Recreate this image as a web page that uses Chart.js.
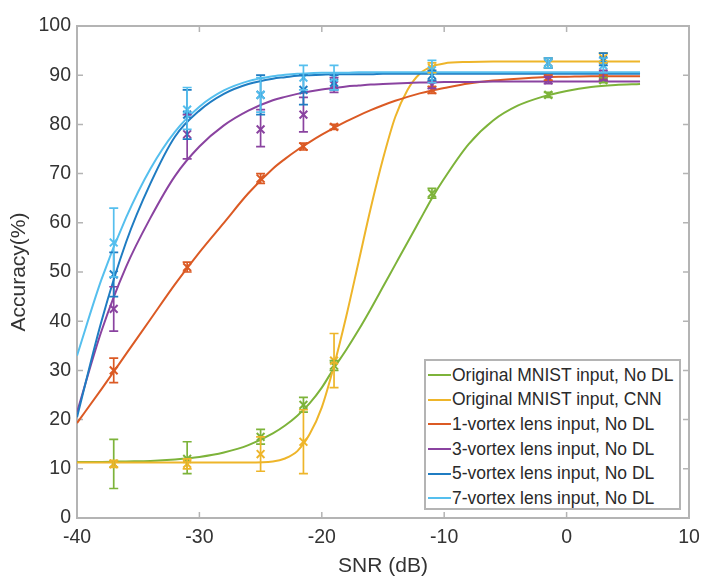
<!DOCTYPE html>
<html>
<head>
<meta charset="utf-8">
<script src="https://cdn.jsdelivr.net/npm/chart.js@4/dist/chart.umd.min.js"></script>
<style>
  html, body { margin: 0; padding: 0; background: #fff; }
  #wrap { position: relative; width: 702px; height: 579px; }
  #legend {
    position: absolute; left: 424px; top: 359px; width: 257px; height: 151px;
    box-sizing: border-box; border: 2px solid #b4b4b4; background: #fff;
    font-family: "Liberation Sans", Arial, sans-serif; font-size: 17.5px; color: #2a2a2a;
    padding-top: 2px;
  }
  #legend .row { height: 24.6px; display: flex; align-items: center; white-space: nowrap; }
  #legend .swatch { width: 23px; height: 2px; margin-left: 2px; margin-right: 1px; }
</style>
</head>
<body>
<div id="wrap">
  <canvas id="c" width="702" height="579"></canvas>
  <div id="legend"></div>
</div>
<script>
(function () {

  // measured SNR values (dB)
  const snrPoints = [-37, -31, -25, -21.5, -19, -11, -1.5, 3];

  // x positions for the fitted curves
  const fitSnr = [-40, -38, -36, -34, -32, -30, -28, -26, -24, -23, -22, -21, -20, -19, -18,
                  -17, -16, -15, -14, -13, -12, -11, -10, -8, -6, -4, -2, 0, 2, 4, 6];

  const seriesLabels = [
    "Original MNIST input, No DL",
    "Original MNIST input, CNN",
    "1-vortex lens input, No DL",
    "3-vortex lens input, No DL",
    "5-vortex lens input, No DL",
    "7-vortex lens input, No DL"
  ];

  // accuracy (%) at each measured SNR, with error-bar ends
  const mnistVals = [11, 12, 16.5, 23, 31, 66, 86, 89];
  const mnistLo   = [6, 9, 15, 21.5, 30, 65, 85.5, 88.5];
  const mnistHi   = [16, 15.5, 18, 24.5, 32, 67, 86.5, 89.5];

  const cnnVals = [11, 11, 13, 15.5, 32, 91.5, 92.5, 93.5];
  const cnnLo   = [10.3, 10, 9.5, 9, 26.5, 90.5, 91.5, 92.5];
  const cnnHi   = [11.7, 12, 16.5, 22, 37.5, 92.5, 93.5, 94.5];

  const v1Vals = [30, 51, 69, 75.5, 79.5, 87, 89.5, 89.5];
  const v1Lo   = [27.5, 50, 68, 74.8, 79, 86.3, 89, 89];
  const v1Hi   = [32.5, 52, 70, 76.2, 80, 87.7, 90, 90];

  const v3Vals = [42.5, 78, 79, 82, 88, 88, 89, 90];
  const v3Lo   = [38, 73, 75.5, 78.5, 86.5, 87.3, 88.3, 89];
  const v3Hi   = [47, 82, 83, 85.5, 89.5, 88.7, 89.7, 91];

  const v5Vals = [49.5, 82, 86, 87, 88.5, 90, 92.5, 93];
  const v5Lo   = [45, 77, 82, 84, 87, 89, 91.5, 92];
  const v5Hi   = [54, 87, 90, 90, 90, 91, 93.5, 94.5];

  const v7Vals = [56, 83, 86, 89.5, 89.5, 91, 92.5, 92];
  const v7Lo   = [49, 79, 82.5, 87, 87, 88.5, 91.5, 90.5];
  const v7Hi   = [63, 87.5, 89.5, 92, 92, 93, 93.5, 93.5];

  // fitted curves at fitSnr
  const mnistFit = [11.4, 11.4, 11.5, 11.6, 11.9, 12.4, 13.3, 14.8, 17.2, 18.8, 20.8, 23.3, 26.5, 30.5, 34.2,
                    38.2, 42.5, 47, 51.5, 56, 60.5, 65, 69, 76, 80.8, 83.8, 85.6, 86.8, 87.6, 88, 88.2];
  const cnnFit   = [11.3, 11.3, 11.3, 11.3, 11.3, 11.3, 11.3, 11.3, 11.5, 12.1, 13.6, 17, 22.5, 31, 41,
                    52, 63, 73, 81.5, 87, 90.3, 91.8, 92.4, 92.7, 92.8, 92.8, 92.8, 92.8, 92.8, 92.8, 92.8];
  const v1Fit    = [19.3, 26.2, 33.3, 40.4, 47.5, 54, 60, 66, 71, 73, 74.8, 76.4, 77.9, 79.3, 80.6,
                    81.8, 82.9, 83.9, 84.8, 85.6, 86.3, 86.9, 87.4, 88.3, 88.9, 89.3, 89.6, 89.7, 89.8, 89.8, 89.8];
  const v3Fit    = [21.5, 38, 51, 61, 69.5, 75.5, 79.8, 82.8, 84.9, 85.6, 86.2, 86.7, 87.1, 87.4, 87.7,
                    87.9, 88.1, 88.2, 88.3, 88.4, 88.5, 88.5, 88.6, 88.6, 88.7, 88.7, 88.7, 88.7, 88.7, 88.7, 88.7];
  const v5Fit    = [20.5, 40, 56, 68, 77.5, 82.8, 86.2, 88.2, 89.3, 89.6, 89.9, 90, 90.1, 90.2, 90.2,
                    90.2, 90.2, 90.3, 90.3, 90.3, 90.3, 90.3, 90.3, 90.3, 90.3, 90.3, 90.3, 90.3, 90.3, 90.3, 90.3];
  const v7Fit    = [33, 48.5, 61, 71, 78.5, 83.6, 86.9, 88.8, 89.8, 90.1, 90.3, 90.4, 90.5, 90.5, 90.5,
                    90.6, 90.6, 90.6, 90.6, 90.6, 90.6, 90.6, 90.6, 90.6, 90.6, 90.6, 90.6, 90.6, 90.6, 90.6, 90.6];

  const xTicks = [-40, -30, -20, -10, 0, 10];
  const yTicks = [0, 10, 20, 30, 40, 50, 60, 70, 80, 90, 100];

  const seriesColors = ["#7db33a", "#eeb52a", "#db5a24", "#8a43a0", "#1f7cc2", "#55bfee"];

  const allVals = [mnistVals, cnnVals, v1Vals, v3Vals, v5Vals, v7Vals];
  const allLo   = [mnistLo, cnnLo, v1Lo, v3Lo, v5Lo, v7Lo];
  const allHi   = [mnistHi, cnnHi, v1Hi, v3Hi, v5Hi, v7Hi];
  const allFit  = [mnistFit, cnnFit, v1Fit, v3Fit, v5Fit, v7Fit];

  const FONT = "'Liberation Sans', Arial, sans-serif";
  const TEXT = "#333";

  const datasets = [];
  seriesLabels.forEach((label, i) => {
    const n = seriesLabels.length;
    datasets.push({
      label: label,
      data: fitSnr.map((x, j) => ({ x: x, y: allFit[i][j] })),
      borderColor: seriesColors[i],
      borderWidth: 2,
      pointRadius: 0,
      cubicInterpolationMode: "monotone",
      fill: false,
      order: 2 * (n - i)
    });
    datasets.push({
      label: label + " (data)",
      data: snrPoints.map((x, j) => ({ x: x, y: allVals[i][j] })),
      errLo: allLo[i],
      errHi: allHi[i],
      showLine: false,
      borderColor: seriesColors[i],
      backgroundColor: seriesColors[i],
      pointStyle: "crossRot",
      pointRadius: 5.5,
      pointBorderWidth: 2,
      order: 2 * (n - i) - 1
    });
  });

  // box around the plot with inward ticks on all four sides
  const framePlugin = {
    id: "frame",
    beforeDatasetsDraw(chart) {
      const { ctx, chartArea: a, scales: { x, y } } = chart;
      ctx.save();
      ctx.strokeStyle = "#b4b4b4";
      ctx.lineWidth = 2;
      ctx.strokeRect(a.left, a.top, a.right - a.left, a.bottom - a.top);
      ctx.lineWidth = 1.5;
      ctx.beginPath();
      xTicks.forEach(v => {
        const px = x.getPixelForValue(v);
        if (px <= a.left + 1 || px >= a.right - 1) return;
        ctx.moveTo(px, a.bottom); ctx.lineTo(px, a.bottom - 6);
        ctx.moveTo(px, a.top); ctx.lineTo(px, a.top + 6);
      });
      yTicks.forEach(v => {
        const py = y.getPixelForValue(v);
        if (py <= a.top + 1 || py >= a.bottom - 1) return;
        ctx.moveTo(a.left, py); ctx.lineTo(a.left + 6, py);
        ctx.moveTo(a.right, py); ctx.lineTo(a.right - 6, py);
      });
      ctx.stroke();
      ctx.restore();
    }
  };

  const errorBarPlugin = {
    id: "errorBars",
    afterDatasetsDraw(chart) {
      const { ctx, scales: { x, y } } = chart;
      ctx.save();
      ctx.lineWidth = 1.7;
      chart.data.datasets.forEach(ds => {
        if (!ds.errLo) return;
        ctx.strokeStyle = ds.borderColor;
        ctx.beginPath();
        ds.data.forEach((p, j) => {
          const px = x.getPixelForValue(p.x);
          const lo = y.getPixelForValue(ds.errLo[j]);
          const hi = y.getPixelForValue(ds.errHi[j]);
          ctx.moveTo(px, lo); ctx.lineTo(px, hi);
          ctx.moveTo(px - 4.5, lo); ctx.lineTo(px + 4.5, lo);
          ctx.moveTo(px - 4.5, hi); ctx.lineTo(px + 4.5, hi);
        });
        ctx.stroke();
      });
      ctx.restore();
    }
  };

  new Chart(document.getElementById("c"), {
    type: "line",
    data: { datasets },
    options: {
      responsive: false,
      animation: false,
      devicePixelRatio: 1,
      layout: { padding: { top: 26, right: 13, left: 0, bottom: 0 } },
      plugins: { legend: { display: false }, tooltip: { enabled: false } },
      scales: {
        x: {
          type: "linear",
          min: -40, max: 10,
          afterBuildTicks(s) { s.ticks = xTicks.map(v => ({ value: v })); },
          afterFit(s) { s.height = 61; s.paddingLeft = 0; s.paddingRight = 0; },
          grid: { display: false, drawTicks: false },
          border: { display: false },
          ticks: {
            color: TEXT,
            font: { family: FONT, size: 19.5 },
            padding: 8
          },
          title: {
            display: true, text: "SNR (dB)", color: TEXT,
            font: { family: FONT, size: 21 },
            padding: { top: 0, bottom: 0 }
          }
        },
        y: {
          type: "linear",
          min: 0, max: 100,
          afterBuildTicks(s) { s.ticks = yTicks.map(v => ({ value: v })); },
          afterFit(s) { s.width = 77; s.paddingTop = 0; s.paddingBottom = 0; },
          grid: { display: false, drawTicks: false },
          border: { display: false },
          ticks: {
            color: TEXT,
            font: { family: FONT, size: 19.5 },
            padding: 6
          },
          title: {
            display: true, text: "Accuracy(%)", color: TEXT,
            font: { family: FONT, size: 21 },
            padding: { top: 7, bottom: 0 }
          }
        }
      }
    },
    plugins: [framePlugin, errorBarPlugin]
  });

  // legend drawn inside the plot, bottom right
  const legend = document.getElementById("legend");
  seriesLabels.forEach((label, i) => {
    const row = document.createElement("div");
    row.className = "row";
    const sw = document.createElement("span");
    sw.className = "swatch";
    sw.style.background = seriesColors[i];
    const txt = document.createElement("span");
    txt.textContent = label;
    row.appendChild(sw);
    row.appendChild(txt);
    legend.appendChild(row);
  });

})();
</script>
</body>
</html>
